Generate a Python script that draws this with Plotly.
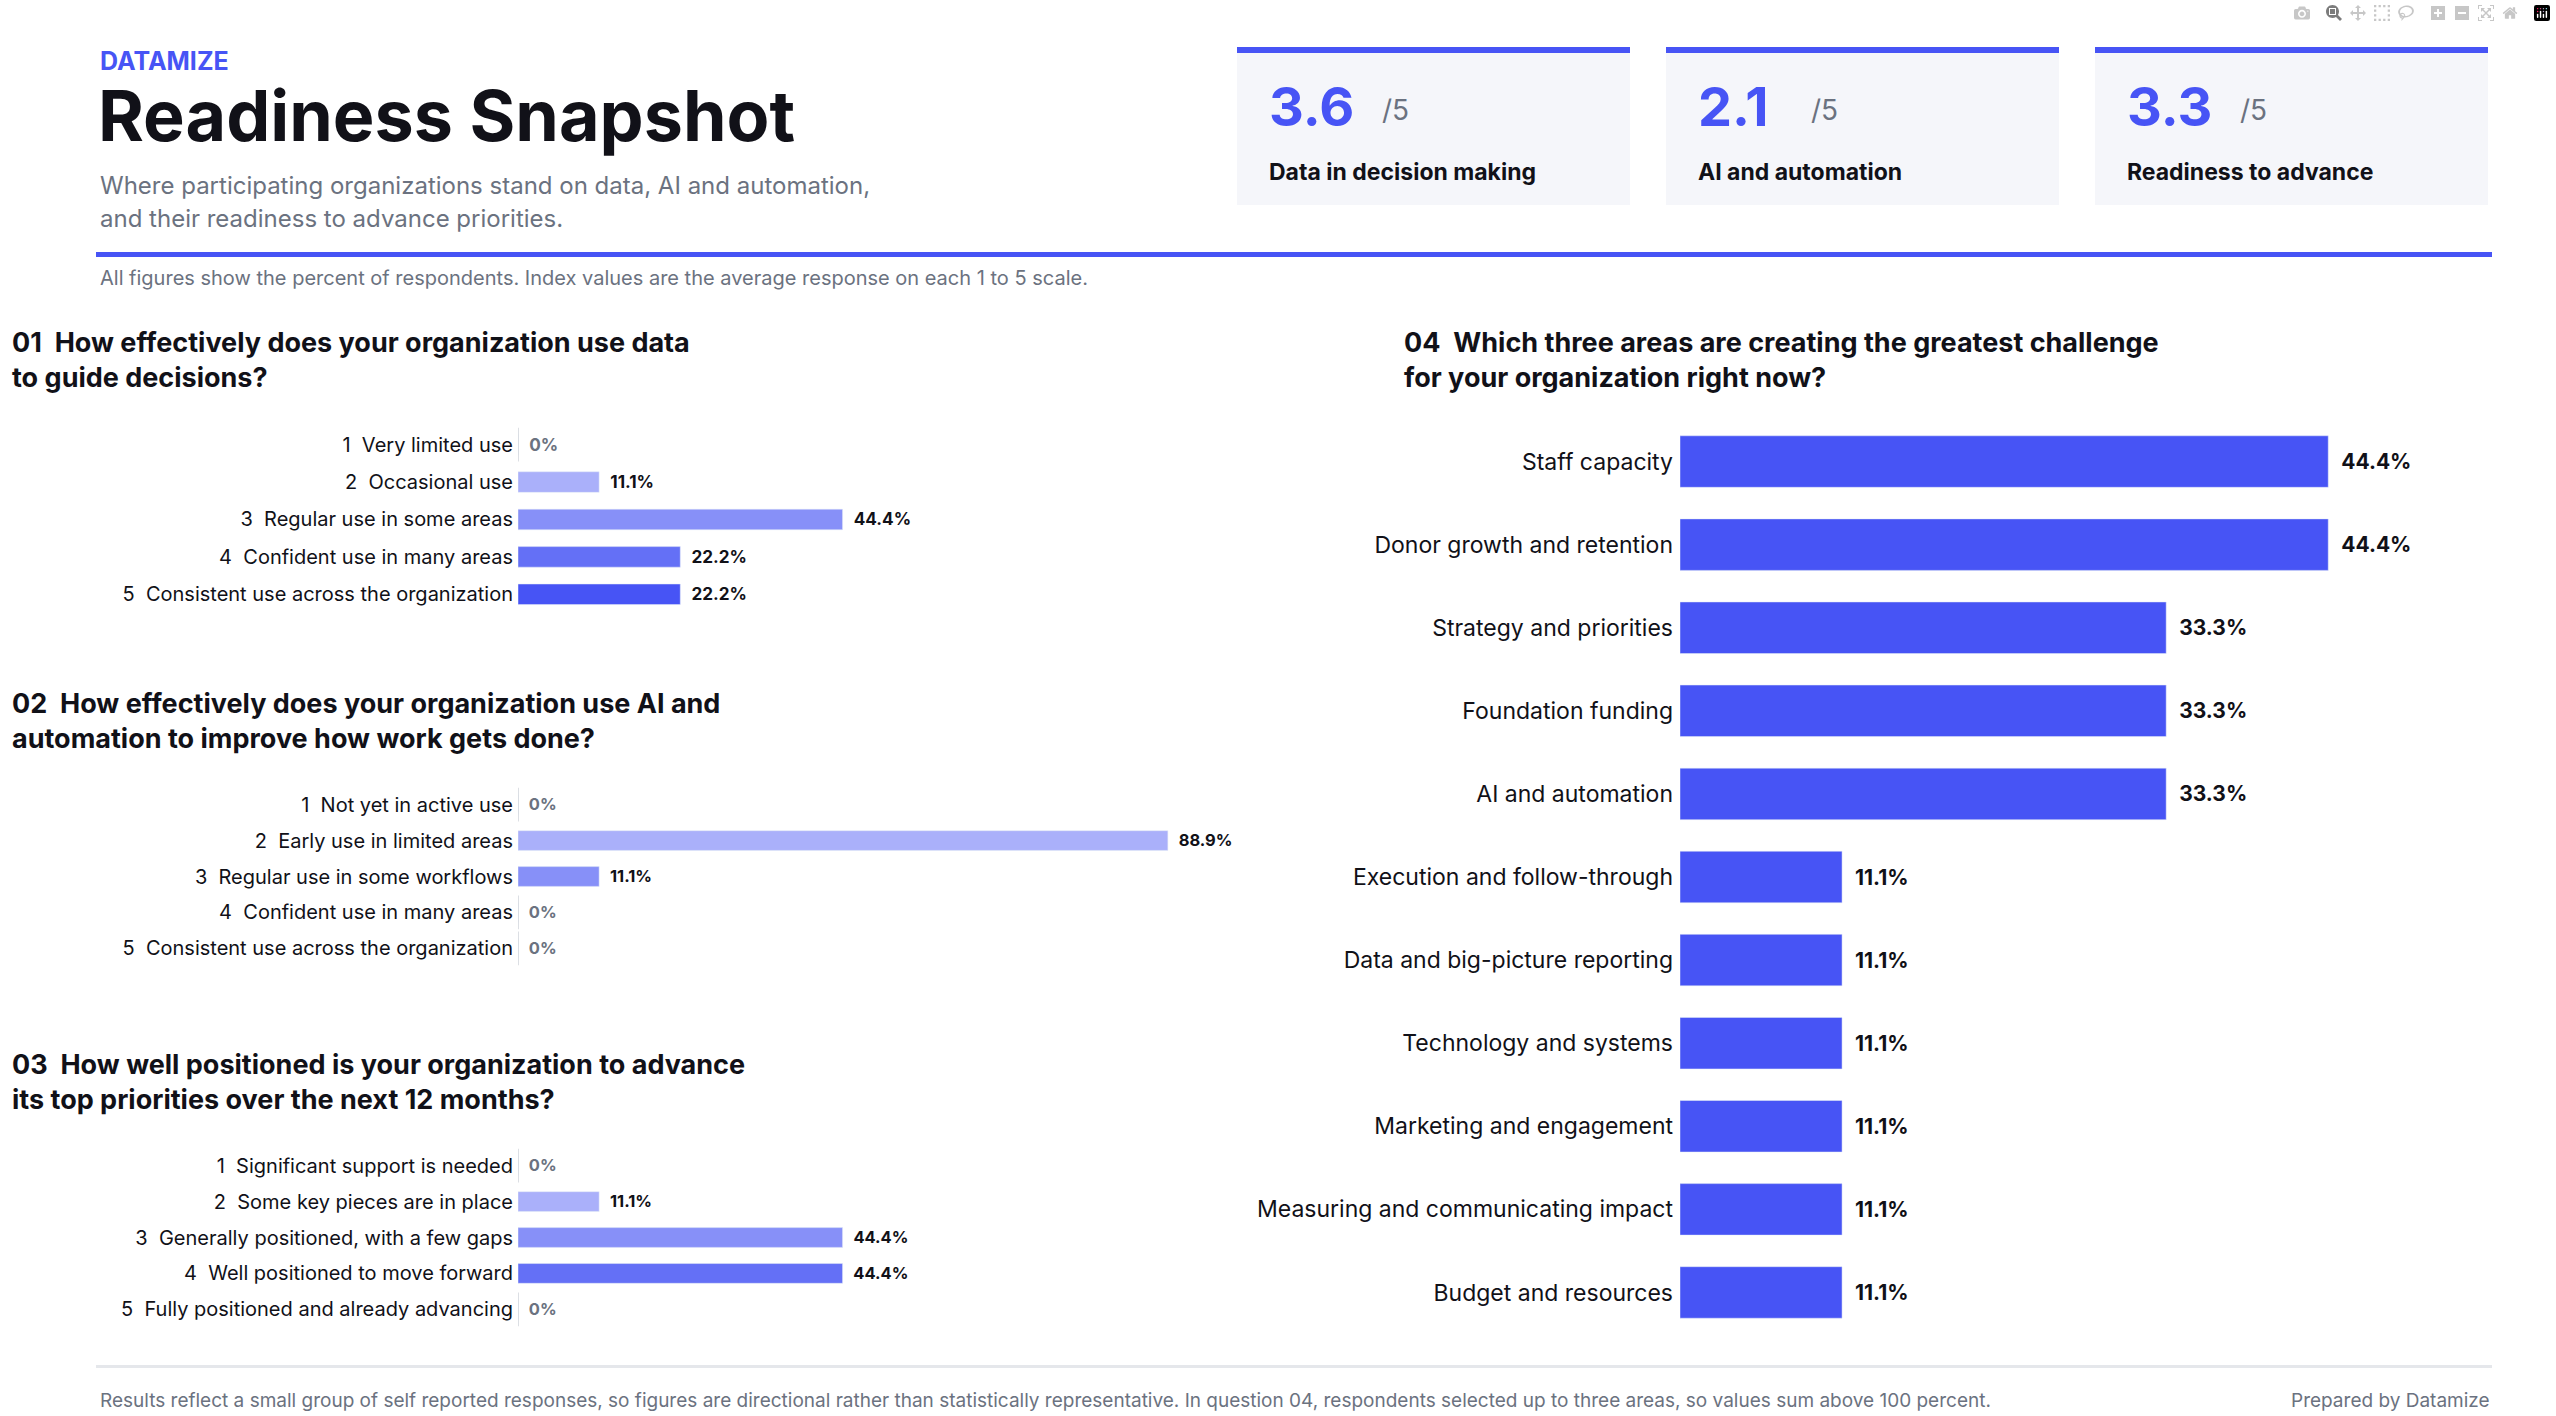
import plotly.graph_objects as go

W, H = 2556, 1416
BLUE = "#4754F5"
DARK = "#111118"
GRAY = "#6B7280"
FONT = "Inter, Lato, sans-serif"

q1_labels = ["1  Very limited use", "2  Occasional use", "3  Regular use in some areas",
             "4  Confident use in many areas", "5  Consistent use across the organization"]
q1_values = [0, 11.1, 44.4, 22.2, 22.2]
q2_labels = ["1  Not yet in active use", "2  Early use in limited areas", "3  Regular use in some workflows",
             "4  Confident use in many areas", "5  Consistent use across the organization"]
q2_values = [0, 88.9, 11.1, 0, 0]
q3_labels = ["1  Significant support is needed", "2  Some key pieces are in place",
             "3  Generally positioned, with a few gaps", "4  Well positioned to move forward",
             "5  Fully positioned and already advancing"]
q3_values = [0, 11.1, 44.4, 44.4, 0]
q4_labels = ["Staff capacity", "Donor growth and retention", "Strategy and priorities",
             "Foundation funding", "AI and automation", "Execution and follow-through",
             "Data and big-picture reporting", "Technology and systems", "Marketing and engagement",
             "Measuring and communicating impact", "Budget and resources"]
q4_values = [44.4, 44.4, 33.3, 33.3, 33.3, 11.1, 11.1, 11.1, 11.1, 11.1, 11.1]
scale_colors = ["#D1D5DB", "#AAB0FA", "#8790F8", "#6470F6", "#4754F5"]

card_values = ["3.6", "2.1", "3.3"]
card_labels = ["Data in decision making", "AI and automation", "Readiness to advance"]

def px(x): return x / W
def py(y): return 1 - y / H

fig = go.Figure()

def add_scale(idx, labels, values, ytop, ybot):
    xa = "x" if idx == 1 else f"x{idx}"
    ya = "y" if idx == 1 else f"y{idx}"
    texts = [("  0%" if v == 0 else f"  {v}%") for v in values]
    tcol = [GRAY if v == 0 else DARK for v in values]
    fig.add_trace(go.Bar(x=values, y=labels, orientation="h", marker_color=scale_colors,
                         text=texts, textposition="outside", cliponaxis=False,
                         textfont=dict(size=20, color=tcol, family=FONT, weight="bold"),
                         xaxis=xa, yaxis=ya, hoverinfo="skip"))
    zl = [l for l, v in zip(labels, values) if v == 0]
    fig.add_trace(go.Scatter(x=[0] * len(zl), y=zl, mode="markers",
                             marker=dict(symbol="line-ns", size=24, line=dict(width=1.5, color="#D1D5DB")),
                             xaxis=xa, yaxis=ya, hoverinfo="skip"))
    key = "" if idx == 1 else str(idx)
    fig.update_layout(**{
        f"xaxis{key}": dict(domain=[px(518), px(518 + 731)], range=[0, 100], visible=False,
                            anchor=ya, fixedrange=True),
        f"yaxis{key}": dict(domain=[py(ybot), py(ytop)], autorange="reversed", anchor=xa,
                            showgrid=False, zeroline=False, showline=False, ticks="",
                            ticklabelstandoff=4,
                            tickfont=dict(size=20, color=DARK, family=FONT)),
    })

add_scale(1, q1_labels, q1_values, 420, 613)
add_scale(2, q2_labels, q2_values, 780, 973)
add_scale(3, q3_labels, q3_values, 1141, 1334)

fig.add_trace(go.Bar(x=q4_values, y=q4_labels, orientation="h", marker_color=BLUE,
                     text=[f"  {v}%" for v in q4_values], textposition="outside", cliponaxis=False,
                     textfont=dict(size=21, color=DARK, family=FONT, weight="bold"),
                     xaxis="x4", yaxis="y4", hoverinfo="skip"))
fig.update_layout(
    xaxis4=dict(domain=[px(1680), px(2410)], range=[0, 50], visible=False, anchor="y4"),
    yaxis4=dict(domain=[py(1334), py(420)], autorange="reversed", anchor="x4", showgrid=False,
                zeroline=False, showline=False, ticks="", ticklabelstandoff=6,
                tickfont=dict(size=23, color=DARK, family=FONT)),
)

ann = []
def text(x, y, s, size, color=DARK, bold=False, xanchor="left", yanchor="middle"):
    ann.append(dict(x=px(x), y=py(y), xref="paper", yref="paper", text=s, showarrow=False,
                    xanchor=xanchor, yanchor=yanchor, align="left",
                    font=dict(size=size, color=color, family=FONT, weight="bold" if bold else "normal")))

text(98, 61, "DATAMIZE", 25, BLUE, True)
text(96, 116, "Readiness Snapshot", 70, DARK, True)
text(98, 185, "Where participating organizations stand on data, AI and automation,", 24, GRAY)
text(98, 218, "and their readiness to advance priorities.", 24, GRAY)
text(98, 278, "All figures show the percent of respondents. Index values are the average response on each 1 to 5 scale.", 20, GRAY)
text(10, 360, "01  How effectively does your organization use data<br>to guide decisions?", 27, DARK, True)
text(10, 721, "02  How effectively does your organization use AI and<br>automation to improve how work gets done?", 27, DARK, True)
text(10, 1082, "03  How well positioned is your organization to advance<br>its top priorities over the next 12 months?", 27, DARK, True)
text(1402, 360, "04  Which three areas are creating the greatest challenge<br>for your organization right now?", 27, DARK, True)
text(98, 1400, "Results reflect a small group of self reported responses, so figures are directional rather than statistically representative. In question 04, respondents selected up to three areas, so values sum above 100 percent.", 19, GRAY)
text(2492, 1400, "Prepared by Datamize", 19, GRAY, xanchor="right")

shapes = []
card_x = [1237, 1666, 2095]
for cx, v, l in zip(card_x, card_values, card_labels):
    shapes.append(dict(type="rect", xref="paper", yref="paper", x0=px(cx), x1=px(cx + 393),
                       y0=py(205), y1=py(48), fillcolor="#F5F6FA", line=dict(width=0), layer="below"))
    shapes.append(dict(type="rect", xref="paper", yref="paper", x0=px(cx), x1=px(cx + 393),
                       y0=py(53), y1=py(47), fillcolor=BLUE, line=dict(width=0)))
    text(cx + 30, 107, v, 54, BLUE, True)
    text(cx + 143, 110, "/5", 28, GRAY)
    text(cx + 30, 172, l, 23, DARK, True)

shapes.append(dict(type="rect", xref="paper", yref="paper", x0=px(96), x1=px(2492),
                   y0=py(257), y1=py(252), fillcolor=BLUE, line=dict(width=0)))
shapes.append(dict(type="rect", xref="paper", yref="paper", x0=px(96), x1=px(2492),
                   y0=py(1368), y1=py(1365), fillcolor="#E5E7EB", line=dict(width=0)))

fig.update_layout(width=W, height=H, margin=dict(l=0, r=0, t=0, b=0),
                  paper_bgcolor="white", plot_bgcolor="white", showlegend=False,
                  bargap=0.45, annotations=ann, shapes=shapes,
                  font=dict(family=FONT))
fig.data[-1].width = 0.62
fig.write_html("out.html")

with open("out.html", encoding="utf-8") as f:
    html = f.read()
html = html.replace("<body>", '<body style="margin:0;overflow:hidden">', 1)
with open("out.html", "w", encoding="utf-8") as f:
    f.write(html)
